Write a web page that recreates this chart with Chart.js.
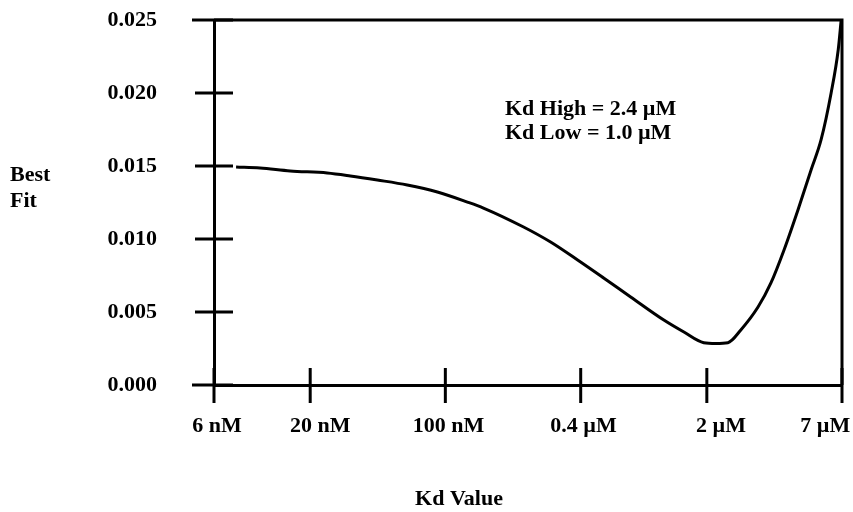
<!DOCTYPE html>
<html>
<head>
<meta charset="utf-8">
<script src="https://cdn.jsdelivr.net/npm/chart.js@4/dist/chart.umd.min.js"></script>
<style>
html,body{margin:0;padding:0;background:#fff;}
#wrap{width:853px;height:512px;position:relative;}
</style>
</head>
<body>
<div id="wrap"><canvas id="c" width="853" height="512"></canvas></div>
<script>
// x = log10(Kd / M), y = best-fit value
const logKd = [-8.114,-7.997,-7.850,-7.669,-7.556,-7.424,-7.278,-7.131,-6.984,-6.906,-6.710,-6.578,-6.446,-6.319,-6.187,-6.025,-5.927,-5.830,-5.771,-5.712,-5.649,-5.565,-5.502,-5.438,-5.370,-5.306,-5.257,-5.208,-5.173,-5.159];
const bestFit = [0.01493,0.01486,0.01466,0.01452,0.01432,0.01404,0.01370,0.01322,0.01253,0.01212,0.01082,0.00979,0.00856,0.00733,0.00603,0.00445,0.00363,0.00290,0.00285,0.00290,0.00377,0.00534,0.00699,0.00925,0.01199,0.01473,0.01680,0.02000,0.02300,0.02500];
// tick mark positions and where each label sits (log10 Kd)
const xTickValues = [-8.2218,-7.752,-7.092,-6.431,-5.815,-5.1549];
const xLabelValues = [-8.207,-7.703,-7.077,-6.417,-5.746,-5.237];
const xTickLabels = ['6 nM','20 nM','100 nM','0.4 \u00b5M','2 \u00b5M','7 \u00b5M'];
const yTickValues = [0,0.005,0.010,0.015,0.020,0.025];
const yTickLabels = ['0.000','0.005','0.010','0.015','0.020','0.025'];
const xTitle = 'Kd Value';
const yTitleLines = ['Best','Fit'];
const noteLines = ['Kd High = 2.4 \u00b5M','Kd Low = 1.0 \u00b5M'];

const FONT = '"Liberation Serif","Times New Roman",serif';

function zeroPad(s){ s.paddingTop = 0; s.paddingBottom = 0; s.paddingLeft = 0; s.paddingRight = 0; }

const decor = {
  id:'decor',
  afterDraw(chart){
    const ctx = chart.ctx, a = chart.chartArea;
    const xs = chart.scales.x, ys = chart.scales.y;
    ctx.save();
    ctx.strokeStyle = '#000';
    ctx.lineWidth = 3;
    ctx.lineCap = 'butt';
    // top and right frame
    ctx.beginPath();
    ctx.moveTo(a.left, a.top); ctx.lineTo(a.right, a.top);
    ctx.moveTo(a.right, a.top-1.5); ctx.lineTo(a.right, a.bottom);
    ctx.stroke();
    // y tick marks crossing axis
    yTickValues.forEach((v,i)=>{
      const py = ys.getPixelForValue(v);
      const ext = (i===0 || i===yTickValues.length-1) ? 22 : 19;
      ctx.beginPath();
      ctx.moveTo(a.left-ext, py); ctx.lineTo(a.left+19, py); ctx.stroke();
    });
    // x tick marks crossing axis
    xTickValues.forEach(v=>{
      const px = xs.getPixelForValue(v);
      ctx.beginPath();
      ctx.moveTo(px, a.bottom-17); ctx.lineTo(px, a.bottom+18); ctx.stroke();
    });
    ctx.fillStyle = '#000';
    ctx.font = 'bold 22px ' + FONT;
    ctx.textBaseline = 'middle';
    // y title
    ctx.textAlign = 'left';
    ctx.fillText(yTitleLines[0], 10, 175);
    ctx.fillText(yTitleLines[1], 10, 201);
    // x title
    ctx.textAlign = 'center';
    ctx.fillText(xTitle, 459, 499);
    // annotation
    ctx.textAlign = 'left';
    ctx.fillText(noteLines[0], 505, 109);
    ctx.fillText(noteLines[1], 505, 133);
    ctx.restore();
  }
};

new Chart(document.getElementById('c'), {
  type:'scatter',
  data:{
    datasets:[{
      data: logKd.map((x,i)=>({x:x, y:bestFit[i]})),
      showLine:true,
      borderColor:'#000',
      borderWidth:3,
      pointRadius:0,
      fill:false,
      cubicInterpolationMode:'monotone'
    }]
  },
  options:{
    responsive:false,
    animation:false,
    devicePixelRatio:1,
    layout:{padding:{left:0,right:11,top:20,bottom:0}},
    plugins:{legend:{display:false},tooltip:{enabled:false},title:{display:false}},
    scales:{
      x:{
        type:'linear',
        min:-8.2218, max:-5.1549,
        afterBuildTicks(s){ s.ticks = xLabelValues.map(v=>({value:v})); },
        ticks:{
          callback:(v,i)=>xTickLabels[i],
          color:'#000',
          font:{family:FONT, size:22, weight:'bold'},
          padding:28,
          maxRotation:0,
          autoSkip:false
        },
        grid:{display:false, drawTicks:false},
        border:{display:true, color:'#000', width:3},
        afterFit(s){ s.height = 512 - 385; zeroPad(s); }
      },
      y:{
        type:'linear',
        min:0, max:0.025,
        afterBuildTicks(s){ s.ticks = yTickValues.map(v=>({value:v})); },
        ticks:{
          callback:(v,i)=>yTickLabels[i],
          color:'#000',
          font:{family:FONT, size:22, weight:'bold'},
          padding:57
        },
        grid:{display:false, drawTicks:false},
        border:{display:true, color:'#000', width:3},
        afterFit(s){ s.width = 214; zeroPad(s); }
      }
    }
  },
  plugins:[decor]
});
</script>
</body>
</html>
